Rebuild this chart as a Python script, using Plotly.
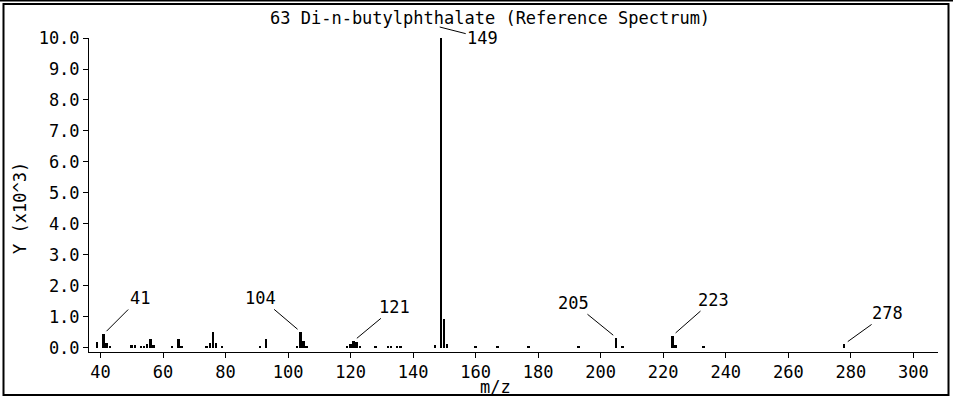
import plotly.graph_objects as go

# spectrum: m/z and intensity (x10^3 counts)
mz = [39, 41, 42, 43, 50, 51, 53, 54, 55, 56, 57, 63, 65, 66,
      74, 75, 76, 77, 79, 91, 93, 103, 104, 105, 106,
      119, 120, 121, 122, 123, 128, 132, 133, 135, 136,
      147, 149, 150, 151, 160, 167, 177, 193, 205, 207,
      223, 224, 233, 278]
intensity = [0.18, 0.45, 0.15, 0.06, 0.10, 0.08, 0.06, 0.06, 0.12, 0.30, 0.10, 0.05, 0.30, 0.06,
             0.05, 0.15, 0.52, 0.15, 0.05, 0.05, 0.28, 0.05, 0.52, 0.22, 0.04,
             0.04, 0.12, 0.23, 0.18, 0.06, 0.04, 0.05, 0.05, 0.04, 0.05,
             0.08, 10.0, 0.95, 0.12, 0.06, 0.05, 0.05, 0.05, 0.33, 0.06,
             0.40, 0.08, 0.05, 0.13]

# labelled peaks and label offsets (px)
label_mz = [41, 104, 121, 205, 223, 278]
label_off = [(36, -36), (-40, -34), (41, -34), (-43, -35), (41, -36), (43, -31)]

title = "63 Di-n-butylphthalate (Reference Spectrum)"
FONT = dict(family="DejaVu Sans Mono", size=17, color="black")

# plot area in pixels
L, R, T, B = 89, 938, 38, 352
W, H = 953, 397


def px(x):
    return (x - L) / (R - L)


def py(y):
    return (B - y) / (B - T)


fig = go.Figure(go.Bar(x=mz, y=intensity, width=0.6,
                       marker=dict(color="black", line_width=0)))

anns = []
lookup = dict(zip(mz, intensity))
for m, (ax, ay) in zip(label_mz, label_off):
    anns.append(dict(x=m, y=lookup[m], xref="x", yref="y", text=str(m),
                     showarrow=True, arrowhead=0, arrowwidth=1, arrowcolor="black",
                     ax=ax, ay=ay, standoff=4, font=FONT))

# base peak label sits beside the top
anns.append(dict(x=148.5, y=py(27), xref="x", yref="paper", text="149",
                 showarrow=True, arrowhead=0, arrowwidth=1, arrowcolor="black",
                 ax=43, ay=11, standoff=0, font=FONT))

anns.append(dict(x=px(490), y=py(18), xref="paper", yref="paper", text=title,
                 xanchor="center", yanchor="middle", showarrow=False, font=FONT))
anns.append(dict(x=px(20), y=py(208), xref="paper", yref="paper", text="Y (x10^3)",
                 xanchor="center", yanchor="middle", textangle=-90, showarrow=False, font=FONT))
anns.append(dict(x=px(495), y=py(387), xref="paper", yref="paper", text="m/z",
                 xanchor="center", yanchor="middle", showarrow=False, font=FONT))

# outer frame
shapes = [
    dict(type="line", xref="paper", yref="paper", x0=px(0), x1=px(W), y0=py(0.8), y1=py(0.8),
         line=dict(color="black", width=1.5)),
    dict(type="rect", xref="paper", yref="paper", x0=px(3.5), x1=px(948.5), y0=py(4), y1=py(395),
         line=dict(color="black", width=2)),
]

fig.update_layout(
    width=W, height=H,
    margin=dict(l=L, r=W - R, t=T, b=H - B),
    plot_bgcolor="white", paper_bgcolor="white",
    showlegend=False, bargap=0,
    font=FONT,
    annotations=anns,
    shapes=shapes,
)
fig.update_xaxes(range=[36.3, 307.9], tick0=40, dtick=20, ticks="outside", ticklen=5,
                 tickcolor="black", showline=True, linecolor="black", linewidth=1,
                 showgrid=False, zeroline=False, tickfont=FONT)
fig.update_yaxes(range=[-0.13, 10.0], tick0=0, dtick=1, tickformat=".1f", ticks="outside",
                 ticklen=5, tickcolor="black", showline=True, linecolor="black", linewidth=1,
                 showgrid=False, zeroline=False, tickfont=FONT)

# drop the page's default body margin so the figure sits at 0,0
fig.write_html("out.html", config={"displayModeBar": False},
               post_script="document.body.style.margin='0';")
